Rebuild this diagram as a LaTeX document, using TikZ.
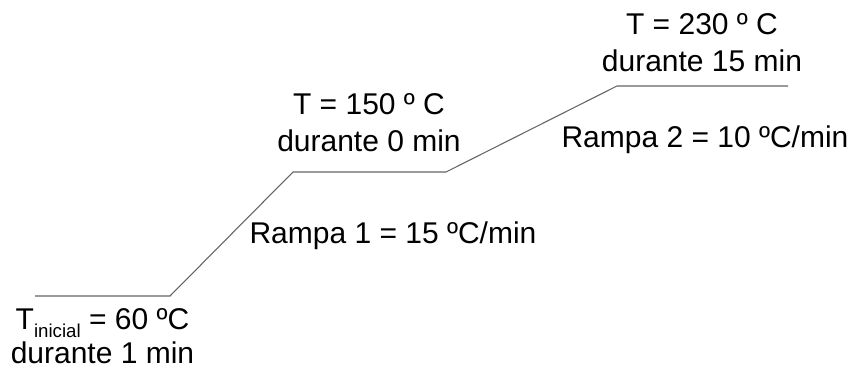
\documentclass[tikz,border=0pt]{standalone}
\usepackage{fontspec}
\setmainfont{Liberation Sans}
\usepackage{tikz}
\usetikzlibrary{positioning, calc}
\definecolor{mygray}{RGB}{100,100,100}
\tikzset{
  profile/.style={line width=0.8pt, color=mygray},
  label/.style={inner sep=0pt, align=center, text=black,
    font=\fontsize{22.5}{27.75}\selectfont}
}
\newcommand{\subtxt}[1]{\raisebox{-6pt}{\fontsize{14}{14}\selectfont #1}}

\begin{document}
\begin{tikzpicture}[x=0.75pt, y=-0.75pt]
    \useasboundingbox (0,0) rectangle (854,368);

    % Temperature program
    \coordinate (p0) at (35,296);
    \coordinate (p1) at (170,296);
    \coordinate (p2) at (293,172);
    \coordinate (p3) at (446,172);
    \coordinate (p4) at (617,86);
    \coordinate (p5) at (788,86);
    \draw[profile] (p0) -- (p1) -- (p2) -- (p3) -- (p4) -- (p5);

    % Plateaus
    \coordinate (m0) at ($(p0)!0.5!(p1)$);
    \node[label, below=9pt of m0] (inicial)
      {T\subtxt{inicial} = 60 ºC\\[-2pt]durante 1 min};
    \node[label, anchor=south] (hold1) at (369,152)
      {T = 150 º C\\durante 0 min};
    \node[label, anchor=south] (hold2) at (702,72)
      {T = 230 º C\\durante 15 min};

    % Ramps
    \node[label, anchor=base] (rampa1) at (393,243) {Rampa 1 = 15 ºC/min};
    \node[label, anchor=base] (rampa2) at (705,147) {Rampa 2 = 10 ºC/min};
  \end{tikzpicture}
\end{document}
